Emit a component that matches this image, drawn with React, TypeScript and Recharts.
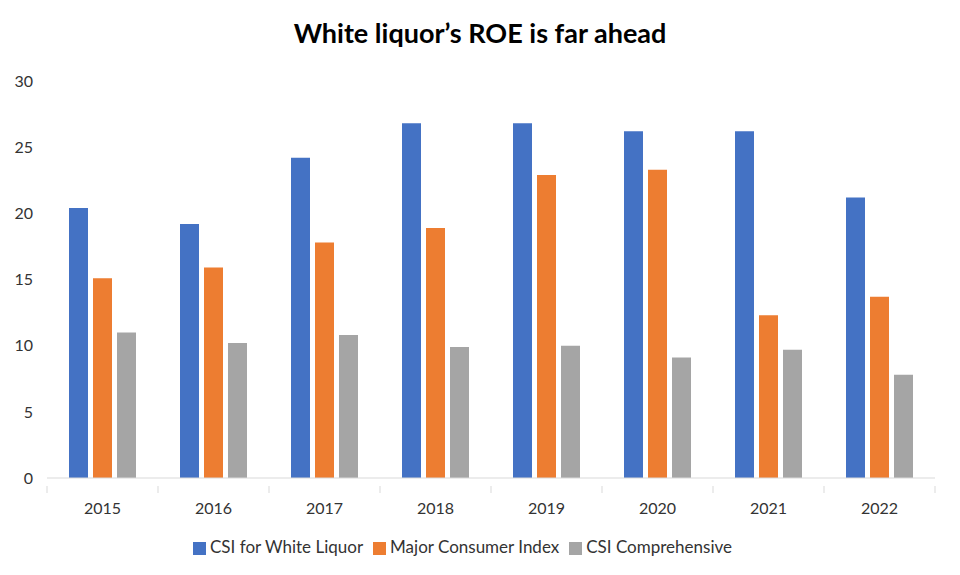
import { BarChart, Bar, XAxis, YAxis, Legend } from 'recharts';

const years = ['2015', '2016', '2017', '2018', '2019', '2020', '2021', '2022'];
const whiteLiquor = [20.4, 19.2, 24.2, 26.8, 26.8, 26.2, 26.2, 21.2];
const majorConsumer = [15.1, 15.9, 17.8, 18.9, 22.9, 23.3, 12.3, 13.7];
const csiComprehensive = [11.0, 10.2, 10.8, 9.9, 10.0, 9.1, 9.7, 7.8];
const yTicks = [0, 5, 10, 15, 20, 25, 30];
const seriesOrder = ['white', 'major', 'csi'];

const data = years.map((year, i) => ({
  year,
  white: whiteLiquor[i],
  major: majorConsumer[i],
  csi: csiComprehensive[i],
}));

const FONT = 'Lato, "Open Sans", sans-serif';
const BAND = 888 / years.length; // width of one category on the x axis

// x tick: label in the middle, small tick marks at category edges like Excel
function YearTick(props: any) {
  const { x, y, payload, index } = props;
  return (
    <g>
      <line x1={x - BAND / 2} y1={y} x2={x - BAND / 2} y2={y + 7} stroke="#d9d9d9" />
      {index === years.length - 1 && (
        <line x1={x + BAND / 2} y1={y} x2={x + BAND / 2} y2={y + 7} stroke="#d9d9d9" />
      )}
      <text x={x} y={y + 28} textAnchor="middle" fill="#333" fontSize={16} fontFamily={FONT}>
        {payload.value}
      </text>
    </g>
  );
}

export default function App() {
  return (
    <div style={{ width: 960, height: 575, background: '#fff', position: 'relative', fontFamily: FONT }}>
      <style>{'body{margin:0}'}</style>
      <div
        style={{
          position: 'absolute',
          top: 16,
          left: 0,
          width: 960,
          textAlign: 'center',
          fontSize: 27,
          fontWeight: 700,
          color: '#000',
        }}
      >
        White liquor’s ROE is far ahead
      </div>
      <BarChart
        width={960}
        height={575}
        data={data}
        margin={{ top: 81, right: 25, left: 0, bottom: 12 }}
        barSize={19}
        barGap={5}
      >
        <YAxis
          width={47}
          domain={[0, 30]}
          ticks={yTicks}
          axisLine={false}
          tickLine={false}
          tickSize={0}
          tickMargin={14}
          tick={{ fill: '#333', fontSize: 16, fontFamily: FONT }}
        />
        <XAxis
          dataKey="year"
          height={58}
          axisLine={{ stroke: '#d9d9d9' }}
          tickLine={false}
          tick={<YearTick />}
          interval={0}
        />
        <Legend
          verticalAlign="bottom"
          height={27}
          iconType="square"
          iconSize={13}
          itemSorter={(item: any) => seriesOrder.indexOf(item.dataKey)}
          wrapperStyle={{ fontSize: 17, fontFamily: FONT }}
          formatter={(value: string) => <span style={{ color: '#333' }}>{value}</span>}
        />
        <Bar dataKey="white" name="CSI for White Liquor" fill="#4472C4" isAnimationActive={false} />
        <Bar dataKey="major" name="Major Consumer Index" fill="#ED7D31" isAnimationActive={false} />
        <Bar dataKey="csi" name="CSI Comprehensive" fill="#A5A5A5" isAnimationActive={false} />
      </BarChart>
    </div>
  );
}
